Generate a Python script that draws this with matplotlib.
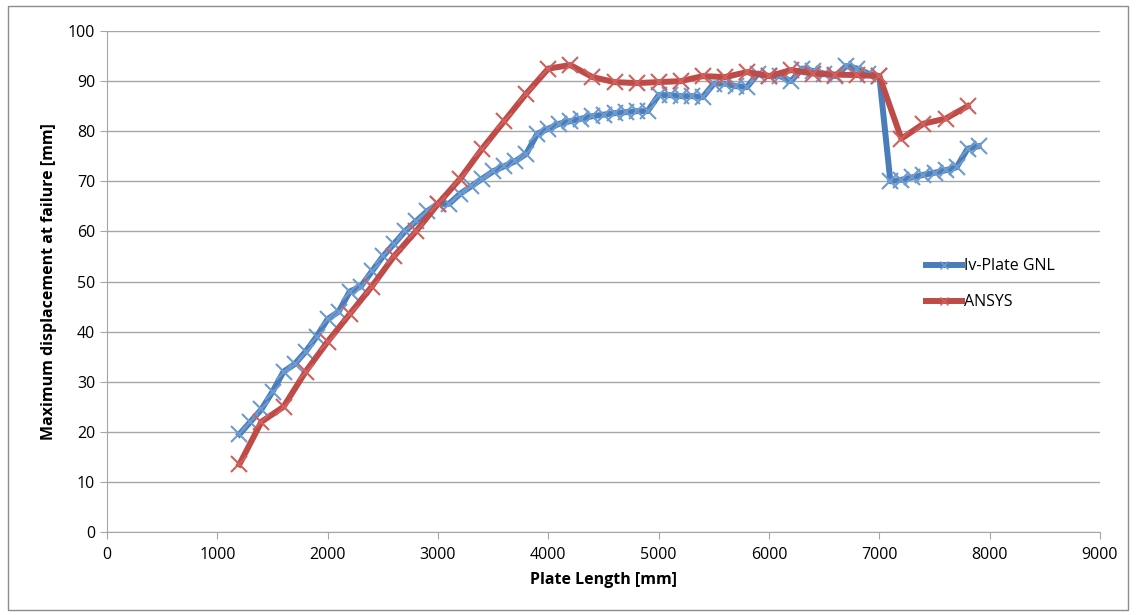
import matplotlib.pyplot as plt
from matplotlib.patches import Rectangle

plt.rcParams['font.family'] = ['Open Sans', 'DejaVu Sans']

# Iv-Plate GNL, every 100 mm
gnl_x = list(range(1200, 8000, 100))
gnl_y = [19.5, 22, 24.5, 28, 32, 33.5, 36, 39, 42.5, 44,
         48, 49, 52, 55, 57.5, 60, 62, 64, 65.5, 65.5,
         67.5, 69, 70.5, 72, 73, 74, 75.5, 79.5, 80.5, 81.5,
         82, 82.5, 83, 83.3, 83.6, 83.8, 84, 84, 87.2, 87.2,
         87, 87, 86.8, 89.5, 89.5, 89, 88.8, 91.5, 91, 91,
         90, 92.5, 92, 91.5, 91, 93, 92.5, 91.5, 91, 70,
         70.3, 70.8, 71.3, 71.7, 72.2, 72.8, 76.5, 77]

# ANSYS, every 200 mm
ansys_x = list(range(1200, 8000, 200))
ansys_y = [13.5, 22, 25, 32, 38, 43.5, 49, 55, 60, 65.5,
           70.5, 76.5, 82, 87.5, 92.5, 93.2, 90.8, 89.8, 89.6, 89.8,
           90, 91, 90.8, 91.8, 91, 92.2, 91.5, 91.3, 91.2, 91,
           78.5, 81.5, 82.5, 85]

fig = plt.figure(figsize=(11.36, 6.15), dpi=100)
ax = fig.add_axes([107 / 1136, 1 - 532 / 615, (1100 - 107) / 1136, (532 - 31) / 615])

ax.plot(gnl_x, gnl_y, color='#4a7ebb', lw=4.3, marker='x', ms=12, mew=1.5,
        mec='#6d9bd0', label='Iv-Plate GNL', zorder=3)
ax.plot(ansys_x, ansys_y, color='#be4b48', lw=4.3, marker='x', ms=12, mew=1.5,
        mec='#d0605c', label='ANSYS', zorder=3)

ax.set_xlim(0, 9000)
ax.set_ylim(0, 100)
ax.set_xticks(range(0, 9001, 1000))
ax.set_yticks(range(0, 101, 10))
ax.grid(axis='y', color='#a6a6a6', lw=1)
ax.set_axisbelow(True)
for s in ['top', 'right']:
    ax.spines[s].set_visible(False)
for s in ['left', 'bottom']:
    ax.spines[s].set_color('#a6a6a6')
ax.tick_params(colors='#a6a6a6', labelcolor='black', labelsize=11.5, length=5)
ax.tick_params(axis='x', direction='out', pad=6)

ax.set_xlabel('Plate Length [mm]', fontsize=11.5, fontweight='bold', labelpad=6)
ax.set_ylabel('Maximum displacement at failure [mm]', fontsize=11.5, fontweight='bold', labelpad=8)

leg = ax.legend(loc='upper left', bbox_to_anchor=(0.81, 0.575), frameon=False, fontsize=11.5,
                handlelength=2.3, handletextpad=0.1, labelspacing=1.25)
for h in leg.legend_handles:
    h.set_markersize(6)
    h.set_markeredgewidth(1)

fig.patches.append(Rectangle((8 / 1136, 5 / 615), 1120 / 1136, 604 / 615, transform=fig.transFigure,
                             fill=False, edgecolor='#8c8c8c', lw=1))

fig.savefig('out.png', dpi=100)
